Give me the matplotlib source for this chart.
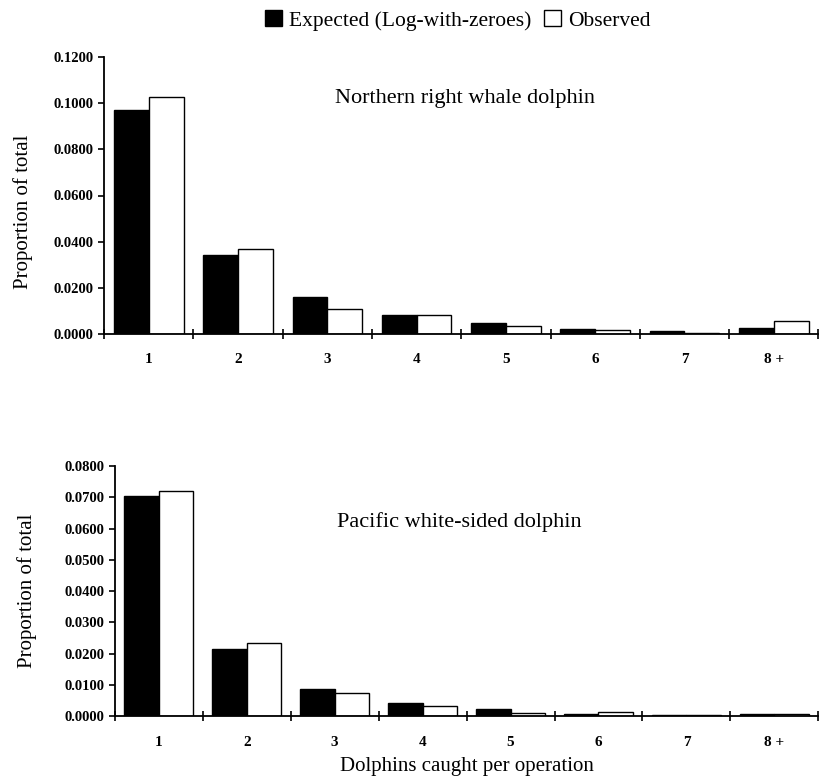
import numpy as np
import matplotlib.pyplot as plt
from matplotlib.patches import Patch

categories = ["1", "2", "3", "4", "5", "6", "7", "8 +"]

# Northern right whale dolphin
nrw_expected = [0.0971, 0.0344, 0.0160, 0.0081, 0.0048, 0.0023, 0.0012, 0.0026]
nrw_observed = [0.1025, 0.0369, 0.0109, 0.0080, 0.0033, 0.0016, 0.0006, 0.0054]

# Pacific white-sided dolphin
pws_expected = [0.0704, 0.0214, 0.0088, 0.0044, 0.0022, 0.0006, 0.0004, 0.0006]
pws_observed = [0.0720, 0.0235, 0.0073, 0.0033, 0.0010, 0.0015, 0.0004, 0.0007]

plt.rcParams['font.family'] = ['Liberation Serif', 'DejaVu Serif']

fig = plt.figure(figsize=(8.2, 7.82), dpi=100)
ax1 = fig.add_axes([0.127, 0.573, 0.871, 0.354])
ax2 = fig.add_axes([0.140, 0.084, 0.858, 0.320])

x = np.arange(len(categories))
w = 0.39


def draw_panel(ax, expected, observed, ymax, step, title, tx, ty):
    ax.bar(x - w / 2, expected, w, color='black', edgecolor='black', linewidth=1)
    ax.bar(x + w / 2, observed, w, color='white', edgecolor='black', linewidth=1)
    ax.set_xlim(-0.5, len(categories) - 0.5)
    ax.set_ylim(0, ymax)
    ticks = np.arange(0, ymax + step / 2, step)
    ax.set_yticks(ticks)
    ax.set_yticklabels([f"{v:.4f}" for v in ticks], fontsize=10.5, fontweight='bold')
    ax.set_xticks(x)
    ax.set_xticklabels(categories, fontsize=11, fontweight='bold')
    ax.tick_params(axis='x', length=0, pad=14)
    ax.set_xticks(np.arange(-0.5, len(categories)), minor=True)
    ax.tick_params(axis='x', which='minor', direction='inout', length=7, width=1.2)
    ax.tick_params(axis='y', direction='out', length=4, width=1.2)
    for s in ['top', 'right']:
        ax.spines[s].set_visible(False)
    for s in ['left', 'bottom']:
        ax.spines[s].set_linewidth(1.3)
    ax.set_ylabel("Proportion of total", fontsize=15)
    ax.text(tx, ty, title, transform=ax.transAxes, fontsize=16, ha='center', va='center')


draw_panel(ax1, nrw_expected, nrw_observed, 0.12, 0.02,
           "Northern right whale dolphin", 0.505, 0.85)
draw_panel(ax2, pws_expected, pws_observed, 0.08, 0.01,
           "Pacific white-sided dolphin", 0.49, 0.776)
ax1.yaxis.set_label_coords(-0.1, 0.44)
ax2.yaxis.set_label_coords(-0.11, 0.5)
ax2.set_xlabel("Dolphins caught per operation", fontsize=15, labelpad=6)

handles = [Patch(facecolor='black', edgecolor='black'),
           Patch(facecolor='white', edgecolor='black')]
fig.legend(handles, ["Expected (Log-with-zeroes)", "Observed"], loc='upper center',
           bbox_to_anchor=(0.558, 1.012), ncol=2, frameon=False, fontsize=15.5,
           handlelength=0.8, handleheight=0.8, handletextpad=0.3, columnspacing=0.6)

plt.savefig("out.png", dpi=100)
